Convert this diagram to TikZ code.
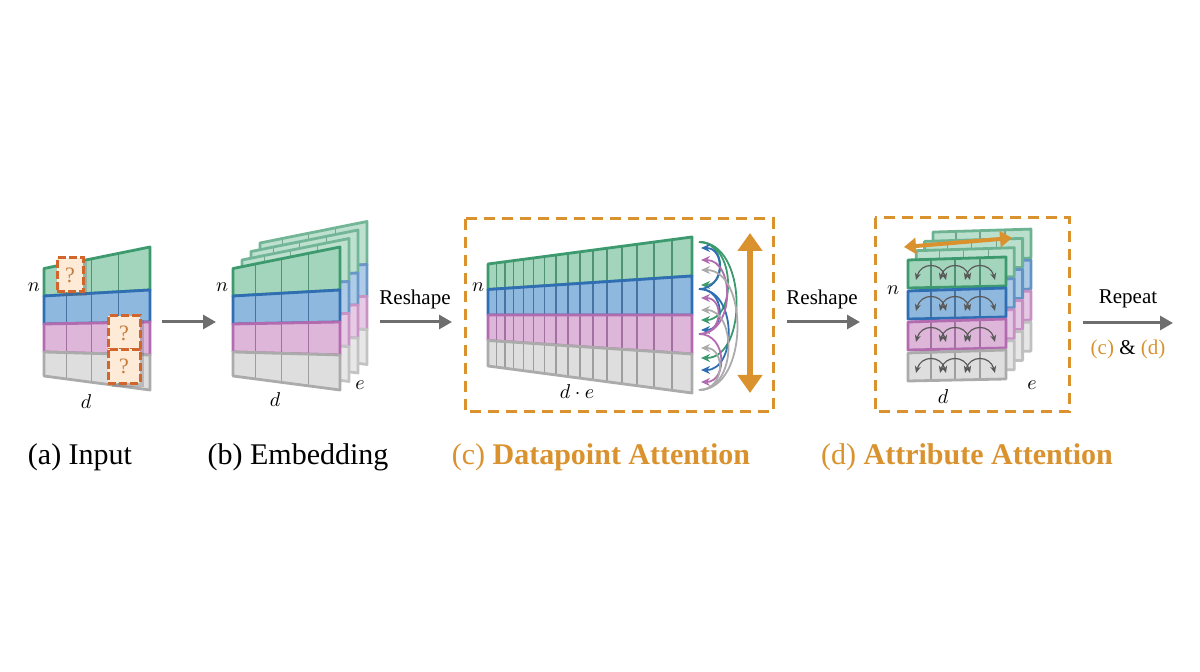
\documentclass[tikz,border=0pt]{standalone}
\usepackage{fontspec}
\setmainfont{Liberation Serif}
\usetikzlibrary{arrows.meta,calc,positioning,shadows}

\definecolor{grnF}{HTML}{A3D4BC}
\definecolor{grnE}{HTML}{3C9A6E}
\definecolor{bluF}{HTML}{8FB8DE}
\definecolor{bluE}{HTML}{2F6EB2}
\definecolor{pnkF}{HTML}{DDB6DA}
\definecolor{pnkE}{HTML}{B36BB0}
\definecolor{gryF}{HTML}{DEDEDE}
\definecolor{gryE}{HTML}{ABABAB}
\definecolor{gold}{HTML}{D9922E}
\definecolor{qorange}{HTML}{D2652B}
\definecolor{qfill}{HTML}{FDEBD7}
\definecolor{qtext}{HTML}{C77B3C}
\definecolor{arrgray}{HTML}{6E6E6E}

\tikzset{
  bandedge/.style={line width=1.4pt, line join=round},
  cellsep/.style={line width=0.6pt},
  flow/.style={draw=arrgray, line width=1.5pt, -{Triangle[width=7pt,length=6.5pt]}},
  panelbox/.style={draw=gold, line width=1.5pt, dash pattern=on 5.5pt off 3.5pt},
  bigarrow/.style={draw=gold, line width=3pt, {Triangle[width=12pt,length=9pt]}-{Triangle[width=12pt,length=9pt]}},
  midarrow/.style={draw=gold, line width=2pt, {Triangle[width=8pt,length=6pt]}-{Triangle[width=8pt,length=6pt]}},
  attarc/.style={line width=0.9pt, -{Stealth[length=4.5pt,width=4pt]}},
  cellarc/.style={draw=black!65, line width=0.6pt, {Stealth[length=3.5pt,width=3pt]}-{Stealth[length=3.5pt,width=3pt]}},
  qbox/.style={draw=qorange, fill=qfill, line width=1.5pt, dash pattern=on 4pt off 1.5pt,
    text=qtext, font=\fontsize{11}{12}\selectfont, inner sep=0pt,
    drop shadow={shadow xshift=2pt, shadow yshift=-2pt, opacity=0.3, fill=black!60}},
  dimlabel/.style={font=\fontsize{10}{12}\selectfont},
  steplabel/.style={font=\fontsize{10.5}{12}\selectfont, anchor=base},
  caption/.style={font=\fontsize{15}{18}\selectfont, anchor=base},
}

% one coloured band of a table: left x, right x, y top/bottom on the left, y top/bottom on the right
\newcommand{\gridband}[9]{%
  \fill[#7] (#1,#3) -- (#2,#5) -- (#2,#6) -- (#1,#4) -- cycle;
  \foreach \t in {#9}{% column lines
    \draw[cellsep,#8!70!gray] ($(#1,#3)!\t!(#2,#5)$) -- ($(#1,#4)!\t!(#2,#6)$);
  }
  \draw[bandedge,#8] (#1,#3) -- (#2,#5) -- (#2,#6) -- (#1,#4) -- cycle;
}

\begin{document}
\begin{tikzpicture}[x=0.5pt,y=-0.5pt]
  \useasboundingbox (0,0) rectangle (1200,672);

  % (a) input table
  \foreach \ytl/\ybl/\ytr/\ybr/\fc/\ec in {268.5/296/247/290/grnF/grnE, 296/324/290/322/bluF/bluE,
      324/352/322/355/pnkF/pnkE, 352/376/355/390/gryF/gryE}{%
    \gridband{44}{150}{\ytl}{\ybl}{\ytr}{\ybr}{\fc}{\ec}{0.21,0.45,0.705}
  }
  \node[qbox, minimum width=13pt, minimum height=17pt] (qa) at (70,275) {?};
  \node[qbox, minimum width=16pt, minimum height=17pt] (qb) at (124,333) {?};
  \node[qbox, minimum width=16pt, minimum height=17pt] (qc) at (124,366.5) {?};
  \node[dimlabel] (na) at (34,287) {$n$};
  \node[dimlabel] (da) at (86,402) {$d$};

  \coordinate (ab1) at (162,322);
  \coordinate (ab2) at (216,322);
  \draw[flow] (ab1) -- (ab2);

  % (b) embedding, four stacked layers
  \foreach \k in {3,2,1,0}{%
    \pgfmathsetmacro\dx{9*\k}
    \pgfmathsetmacro\dy{8.5*\k}
    \pgfmathtruncatemacro\tint{\k==0 ? 100 : 72}
    \foreach \ytl/\ybl/\ytr/\ybr/\fc/\ec in {268.5/296/247/290/grnF/grnE, 296/324/290/322/bluF/bluE,
        324/352/322/355/pnkF/pnkE, 352/376/355/390/gryF/gryE}{%
      \gridband{233+\dx}{340+\dx}{\ytl-\dy}{\ybl-\dy}{\ytr-\dy}{\ybr-\dy}{\fc!\tint!white}{\ec!\tint!white}{0.21,0.45,0.705}
    }
  }
  \node[dimlabel] (nb) at (222,287) {$n$};
  \node[dimlabel] (db) at (275,400) {$d$};
  \node[dimlabel] (eb) at (360,385) {$e$};

  \node[steplabel] (rs1) at (415,305) {Reshape};
  \coordinate (bc1) at (380,322);
  \coordinate (bc2) at (452,322);
  \draw[flow] (bc1) -- (bc2);

  % (c) datapoint attention
  \foreach \ytl/\ybl/\ytr/\ybr/\fc/\ec in {264/289.5/237/276/grnF/grnE, 289.5/315/276/315/bluF/bluE,
      315/340.5/315/354/pnkF/pnkE, 340.5/366/354/393/gryF/gryE}{%
    \gridband{488}{692}{\ytl}{\ybl}{\ytr}{\ybr}{\fc}{\ec}{0.043,0.083,0.124,0.173,0.222,0.275,0.333,0.392,0.451,0.515,0.583,0.657,0.730,0.814,0.902}
  }
  \foreach \ys/\yt/\col in {242/285/grnE, 242/320/grnE, 242/358/grnE, 289/248/bluE, 289/330/bluE, 289/370/bluE,
      334/260/pnkE, 334/298/pnkE, 334/382/pnkE, 390/270/gryE, 390/310/gryE, 390/348/gryE}{%
    \pgfmathsetmacro\bulge{14+0.3*abs(\yt-\ys)}
    \draw[attarc,\col] (699,\ys) .. controls (699+\bulge,\ys) and (699+\bulge,\yt) .. (701,\yt);
  }
  \coordinate (vtop) at (750,233);
  \coordinate (vbot) at (750,393);
  \draw[bigarrow] (vtop) -- (vbot);
  \node[dimlabel] (nc) at (478,287) {$n$};
  \node[dimlabel] (dc) at (577,392) {$d\cdot e$};
  \draw[panelbox] (465,219) rectangle (773,412);

  \node[steplabel] (rs2) at (822,305) {Reshape};
  \coordinate (cd1) at (787,322);
  \coordinate (cd2) at (860,322);
  \draw[flow] (cd1) -- (cd2);

  % (d) attribute attention, rows split apart
  \foreach \k in {3,2,1,0}{%
    \pgfmathsetmacro\dx{8.3*\k}
    \pgfmathsetmacro\dy{9.3*\k}
    \pgfmathtruncatemacro\tint{\k==0 ? 100 : 75}
    \foreach \r/\fc/\ec in {0/grnF/grnE, 1/bluF/bluE, 2/pnkF/pnkE, 3/gryF/gryE}{%
      \pgfmathsetmacro\yt{260+31*\r-\dy}
      \gridband{908+\dx}{1006+\dx}{\yt}{\yt+28}{\yt-3}{\yt+26}{\fc!\tint!white}{\ec!\tint!white}{0.235,0.48,0.735}
    }
  }
  \foreach \r in {0,1,2,3}{%
    \foreach \b in {931,955,980}{%
      \draw[cellarc] (\b-15,280+31*\r) .. controls (\b-10,262+31*\r) and (\b+10,262+31*\r) .. (\b+15,280+31*\r);
    }
  }
  \coordinate (hl) at (904,247);
  \coordinate (hr) at (1012,238);
  \draw[midarrow] (hl) -- (hr);
  \node[dimlabel] (nd) at (893,290) {$n$};
  \node[dimlabel] (dd) at (943,397) {$d$};
  \node[dimlabel] (ed) at (1032,385) {$e$};
  \draw[panelbox] (875,218) rectangle (1069,412);

  % repeat
  \node[steplabel] (rep) at (1128,304) {Repeat};
  \coordinate (re1) at (1083,323);
  \coordinate (re2) at (1173,323);
  \draw[flow] (re1) -- (re2);
  \node[steplabel] (cand) at (1128,355) {\textcolor{gold}{(c)} \& \textcolor{gold}{(d)}};

  % captions
  \node[caption] (capa) at (80,465) {(a) Input};
  \node[caption] (capb) at (298,465) {(b) Embedding};
  \node[caption, text=gold] (capc) at (601,465) {(c) \textbf{Datapoint Attention}};
  \node[caption, text=gold] (capd) at (967,465) {(d) \textbf{Attribute Attention}};
\end{tikzpicture}
\end{document}
